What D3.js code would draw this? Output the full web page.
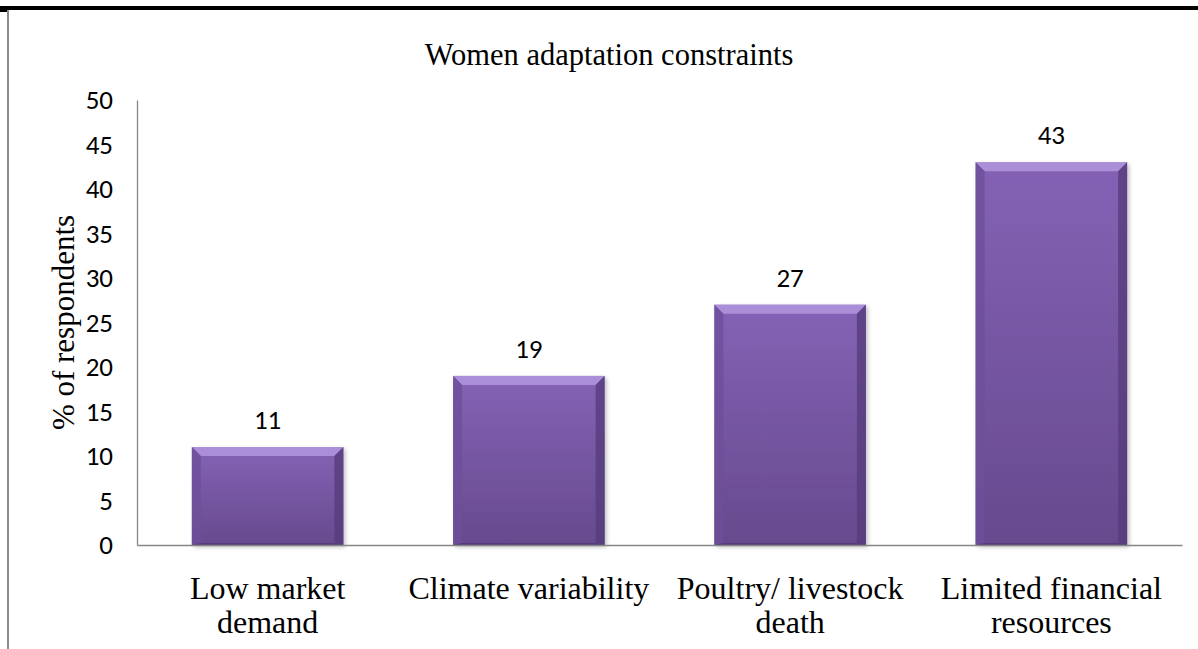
<!DOCTYPE html>
<html>
<head>
<meta charset="utf-8">
<script src="https://cdn.jsdelivr.net/npm/d3@7"></script>
<style>
  body { margin: 0; background: #fff; }
</style>
</head>
<body>
<script>
var categories = [["Low market", "demand"], ["Climate variability"], ["Poultry/ livestock", "death"], ["Limited financial", "resources"]];
var values = [11, 19, 27, 43];
var yTicks = [0, 5, 10, 15, 20, 25, 30, 35, 40, 45, 50];

var W = 1198, H = 649;
var svg = d3.select("body").append("svg").attr("width", W).attr("height", H);

// page frame bits
svg.append("rect").attr("x", 0).attr("y", 6).attr("width", W).attr("height", 4).attr("fill", "#000");
svg.append("rect").attr("x", 0).attr("y", 6).attr("width", 7).attr("height", 6).attr("fill", "#000");
svg.append("rect").attr("x", 7).attr("y", 10).attr("width", 2).attr("height", H - 10).attr("fill", "#8a8a8a");

var defs = svg.append("defs");
var grad = defs.append("linearGradient").attr("id", "barFill").attr("x1", 0).attr("y1", 0).attr("x2", 0).attr("y2", 1);
grad.append("stop").attr("offset", "0%").attr("stop-color", "#8462b5");
grad.append("stop").attr("offset", "100%").attr("stop-color", "#664a8e");
var f = defs.append("filter").attr("id", "shadow").attr("x", "-10%").attr("y", "-10%").attr("width", "130%").attr("height", "130%");
f.append("feDropShadow").attr("dx", 2).attr("dy", 2).attr("stdDeviation", 2).attr("flood-color", "#000").attr("flood-opacity", 0.25);

var mLeft = 137, mRight = 1182, mTop = 100, mBottom = 545;

var x = d3.scaleBand().domain(d3.range(categories.length)).range([mLeft, mRight])
  .paddingInner(0.42).paddingOuter(0.21);
var y = d3.scaleLinear().domain([0, 50]).range([mBottom, mTop]);

var serif = "Liberation Serif, Times New Roman, serif";
var sans = "Carlito, Lato, sans-serif";

// title
svg.append("text").attr("x", 609).attr("y", 65).attr("text-anchor", "middle")
  .style("font-family", serif).style("font-size", "30.5px")
  .text("Women adaptation constraints");

// y axis title
svg.append("text").attr("transform", "translate(74," + ((mTop + mBottom) / 2) + ") rotate(-90)")
  .attr("text-anchor", "middle")
  .style("font-family", serif).style("font-size", "31px")
  .text("% of respondents");

// y axis
var yAxis = svg.append("g").attr("transform", "translate(" + mLeft + ",0)")
  .call(d3.axisLeft(y).tickValues(yTicks).tickSize(0).tickPadding(24));
yAxis.select(".domain").attr("stroke", "#868686").attr("stroke-width", 1.3);
yAxis.selectAll("text").style("font-family", sans).style("font-size", "27px").attr("fill", "#000");

// bars
var bw = x.bandwidth(), b = 9;
var bars = svg.selectAll("g.bar").data(values).enter().append("g").attr("class", "bar");
bars.append("rect")
  .attr("x", function(d, i) { return x(i); })
  .attr("y", function(d) { return y(d); })
  .attr("width", bw)
  .attr("height", function(d) { return y(0) - y(d); })
  .attr("fill", "url(#barFill)")
  .attr("filter", "url(#shadow)");
// bevel edges
bars.append("polygon").attr("fill", "#b296de").attr("opacity", 0.85)
  .attr("points", function(d, i) {
    var x0 = x(i), x1 = x0 + bw, y0 = y(d);
    return [[x0, y0], [x1, y0], [x1 - b, y0 + b], [x0 + b, y0 + b]].join(" ");
  });
bars.append("polygon").attr("fill", "#6d4f9a").attr("opacity", 0.8)
  .attr("points", function(d, i) {
    var x0 = x(i), y0 = y(d), y1 = y(0);
    return [[x0, y0], [x0 + b, y0 + b], [x0 + b, y1 - 2], [x0, y1]].join(" ");
  });
bars.append("polygon").attr("fill", "#563c7c").attr("opacity", 0.8)
  .attr("points", function(d, i) {
    var x1 = x(i) + bw, y0 = y(d), y1 = y(0);
    return [[x1, y0], [x1 - b, y0 + b], [x1 - b, y1 - 2], [x1, y1]].join(" ");
  });
bars.append("polygon").attr("fill", "#4e3672").attr("opacity", 0.7)
  .attr("points", function(d, i) {
    var x0 = x(i), x1 = x0 + bw, y1 = y(0);
    return [[x0, y1], [x1, y1], [x1 - b, y1 - 2], [x0 + b, y1 - 2]].join(" ");
  });

// value labels
svg.selectAll("text.val").data(values).enter().append("text").attr("class", "val")
  .attr("x", function(d, i) { return x(i) + bw / 2; })
  .attr("y", function(d) { return y(d) - 18; })
  .attr("text-anchor", "middle")
  .style("font-family", sans).style("font-size", "27px")
  .text(function(d) { return d; });

// x axis
var xAxis = svg.append("g").attr("transform", "translate(0," + mBottom + ")")
  .call(d3.axisBottom(x).tickSize(0).tickFormat(""));
xAxis.select(".domain").attr("stroke", "#868686").attr("stroke-width", 1.3);

svg.selectAll("text.cat").data(categories).enter().append("text").attr("class", "cat")
  .attr("text-anchor", "middle")
  .style("font-family", serif).style("font-size", "32px")
  .each(function(d, i) {
    var t = d3.select(this);
    d.forEach(function(line, j) {
      t.append("tspan").attr("x", x(i) + bw / 2).attr("y", 599 + j * 34).text(line);
    });
  });
</script>
</body>
</html>
